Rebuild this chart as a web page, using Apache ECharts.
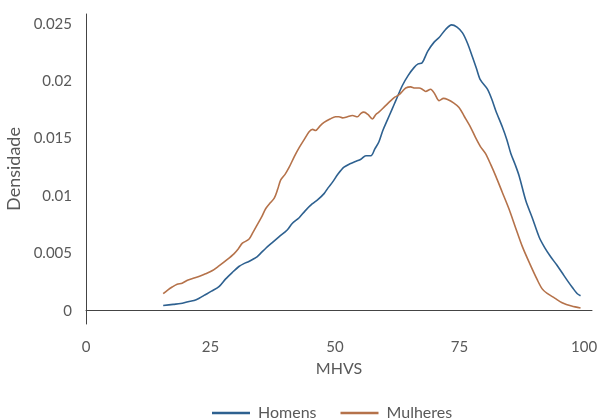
<!DOCTYPE html>
<html>
<head>
<meta charset="utf-8">
<script src="https://cdn.jsdelivr.net/npm/echarts@6/dist/echarts.min.js"></script>
<style>html,body{margin:0;padding:0;background:#fff}#c{width:599px;height:420px}</style>
</head>
<body>
<div id="c"></div>
<script>
var xTicks = [0, 25, 50, 75, 100];
var yTicks = [0, 0.005, 0.01, 0.015, 0.02, 0.025];
var seriesNames = ['Homens', 'Mulheres'];
var homens = [
  [15.5,0.00045],[17.5,0.00055],[19.0,0.00062],[20.5,0.00078],[21.7,0.00088],[22.8,0.0011],[23.7,0.00133],[25.2,0.0017],[26.7,0.0021],[28.0,0.00275],[29.3,0.0033],[30.7,0.00385],[31.7,0.0041],[32.7,0.00428],[33.6,0.0045],[34.4,0.00471],[35.3,0.0051],[36.1,0.00544],[37.4,0.00593],[38.8,0.00645],[40.4,0.00703],[41.4,0.0076],[42.8,0.0081],[44.0,0.0087],[45.4,0.0093],[46.6,0.0097],[47.8,0.0102],[48.6,0.0107],[49.5,0.0112],[50.6,0.0119],[51.8,0.0125],[53.0,0.0128],[54.1,0.013],[55.2,0.0132],[56.2,0.0135],[57.2,0.0135],[58.0,0.0141],[58.8,0.0147],[59.6,0.0157],[60.5,0.0166],[61.4,0.0175],[62.2,0.0183],[63.5,0.0196],[64.7,0.0205],[65.9,0.0212],[66.7,0.0215],[67.5,0.0216],[68.6,0.0226],[69.9,0.0234],[70.9,0.0238],[72.2,0.0245],[73.4,0.0249],[74.5,0.0247],[75.6,0.0242],[76.6,0.0233],[77.6,0.0221],[78.4,0.0211],[79.2,0.0201],[80.6,0.0193],[81.5,0.0184],[82.3,0.0174],[83.6,0.016],[84.5,0.0149],[85.3,0.0137],[86.2,0.0127],[87.0,0.0117],[88.3,0.0096],[89.6,0.0081],[91.0,0.0064],[92.1,0.0055],[93.3,0.0047],[94.5,0.004],[95.6,0.0033],[96.7,0.0026],[97.7,0.002],[98.6,0.0015],[99.3,0.0013]
];
var mulheres = [
  [15.5,0.00148],[16.4,0.0018],[17.3,0.00206],[18.3,0.0023],[19.3,0.0024],[20.5,0.00268],[21.7,0.00284],[22.8,0.003],[24.0,0.00321],[25.4,0.0035],[26.7,0.0039],[28.2,0.0044],[29.7,0.00495],[30.6,0.0054],[31.4,0.00588],[32.7,0.00622],[33.5,0.0068],[34.4,0.0075],[35.3,0.0082],[36.1,0.0089],[37.0,0.0094],[37.8,0.0098],[38.5,0.0106],[39.1,0.0114],[40.0,0.0119],[40.8,0.0125],[41.8,0.0134],[42.8,0.0142],[43.8,0.0149],[44.8,0.0156],[45.5,0.0158],[46.1,0.0157],[47.0,0.0161],[47.8,0.0164],[49.0,0.0167],[50.1,0.0169],[50.8,0.0169],[51.5,0.0168],[52.5,0.0169],[53.5,0.017],[54.5,0.0169],[55.2,0.0172],[55.8,0.0173],[56.6,0.0171],[57.5,0.0167],[58.2,0.0171],[58.8,0.0173],[60.0,0.0178],[61.2,0.0183],[62.0,0.0186],[62.8,0.0188],[63.5,0.0191],[64.2,0.0194],[65.2,0.0195],[66.0,0.0194],[66.9,0.0194],[67.5,0.0193],[68.2,0.0191],[69.2,0.0193],[70.0,0.0189],[70.9,0.0183],[71.8,0.0185],[72.6,0.0184],[73.8,0.0181],[74.9,0.0177],[76.0,0.0169],[77.2,0.016],[78.2,0.0151],[79.2,0.0143],[80.2,0.0137],[81.3,0.0127],[82.3,0.0117],[83.6,0.0103],[84.9,0.0089],[86.2,0.0073],[87.6,0.0056],[89.1,0.0041],[90.6,0.0027],[91.6,0.0019],[92.6,0.0015],[94.1,0.0011],[95.6,0.0007],[97.5,0.0004],[99.3,0.00023]
];

var FONT = 'Lato';
var TXT = '#595959';
var chart = echarts.init(document.getElementById('c'), null, {renderer: 'canvas'});
chart.setOption({
  animation: false,
  color: ['#2e6190', '#b5724a'],
  textStyle: {fontFamily: FONT, color: TXT},
  grid: {left: 86, right: 7, top: 14, bottom: 96, containLabel: false, outerBoundsMode: 'none'},
  legend: {
    data: seriesNames,
    top: 403,
    left: 212,
    padding: 0,
    itemWidth: 38,
    itemHeight: 2.5,
    itemGap: 24,
    icon: 'rect',
    textStyle: {fontFamily: FONT, fontSize: 16, color: TXT, lineHeight: 20, padding: [0,0,0,3]}
  },
  xAxis: {
    type: 'value',
    min: 0,
    max: 101.6,
    name: 'MHVS',
    nameLocation: 'middle',
    nameGap: 37,
    nameTextStyle: {fontFamily: FONT, fontSize: 16, color: TXT},
    axisLine: {show: true, lineStyle: {color: '#444', width: 1}},
    axisTick: {show: false},
    splitLine: {show: false},
    axisLabel: {customValues: xTicks, fontFamily: FONT, fontSize: 15, color: TXT, margin: 16}
  },
  yAxis: {
    type: 'value',
    min: -0.00116,
    max: 0.02585,
    name: 'Densidade',
    nameLocation: 'middle',
    nameGap: 62,
    nameTextStyle: {fontFamily: FONT, fontSize: 18, color: TXT},
    axisLine: {show: true, lineStyle: {color: '#444', width: 1}},
    axisTick: {show: false},
    splitLine: {show: false},
    axisLabel: {customValues: yTicks, fontFamily: FONT, fontSize: 15, color: TXT, margin: 14,
      formatter: function (v) { return String(+v.toFixed(4)); }}
  },
  series: [
    {name: seriesNames[0], type: 'line', data: homens, showSymbol: false, smooth: 0.3, lineStyle: {width: 1.6}},
    {name: seriesNames[1], type: 'line', data: mulheres, showSymbol: false, smooth: 0.3, lineStyle: {width: 1.6}}
  ]
});
</script>
</body>
</html>
